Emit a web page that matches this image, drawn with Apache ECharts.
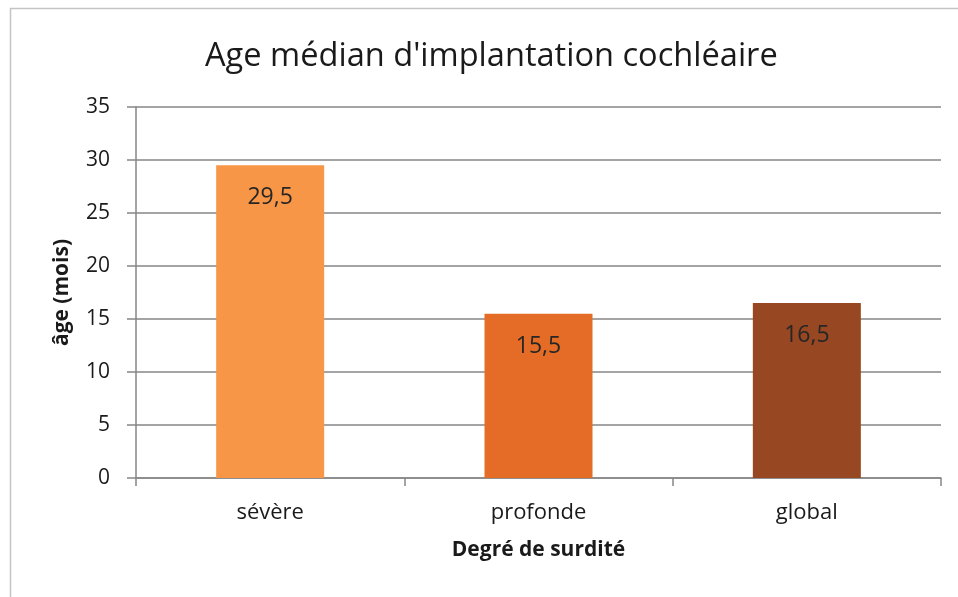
<!DOCTYPE html>
<html><head><meta charset="utf-8">
<script src="https://cdn.jsdelivr.net/npm/echarts@6/dist/echarts.min.js"></script>
<style>html,body{margin:0;padding:0;background:#fff}#c{width:958px;height:597px}</style>
</head><body><div id="c"></div>
<script>
var categories = ['sévère', 'profonde', 'global'];
var values = [29.5, 15.5, 16.5];
var barColors = ['#F79646', '#E46C26', '#974822'];
var yTicks = [0, 5, 10, 15, 20, 25, 30, 35];
var titleText = "Age médian d'implantation cochléaire";
var yName = 'âge (mois)';
var xName = 'Degré de surdité';
var FONT = 'Open Sans';

var chart = echarts.init(document.getElementById('c'), null, {renderer: 'canvas'});
chart.setOption({
  animation: false,
  textStyle: {fontFamily: FONT},
  title: {text: titleText, left: 200, top: 35,
    textStyle: {fontFamily: FONT, fontSize: 32.6, fontWeight: 'normal', color: '#1a1a1a'}},
  grid: {left: 136, right: 17, top: 107, bottom: 119, containLabel: false},
  graphic: [{type: 'rect', shape: {x: 10.5, y: 8.5, width: 1000, height: 1000},
    style: {fill: 'none', stroke: '#c4c4c4', lineWidth: 1.5}, silent: true, z: -1}],
  xAxis: {type: 'category', data: categories,
    name: xName, nameLocation: 'middle', nameGap: 62,
    nameTextStyle: {fontFamily: FONT, fontSize: 21, fontWeight: 'bold', color: '#1a1a1a'},
    axisLine: {lineStyle: {color: '#868686', width: 1.5}},
    axisTick: {show: true, length: 8, lineStyle: {color: '#868686', width: 1.5}},
    axisLabel: {fontSize: 22, color: '#1a1a1a', margin: 24}},
  yAxis: {type: 'value', min: 0, max: 35, interval: 5,
    name: yName, nameLocation: 'middle', nameGap: 63, nameRotate: 90,
    nameTextStyle: {fontFamily: FONT, fontSize: 21, fontWeight: 'bold', color: '#1a1a1a'},
    axisLine: {show: true, lineStyle: {color: '#868686', width: 1.5}},
    axisTick: {show: true, length: 9, lineStyle: {color: '#868686', width: 1.5}},
    axisLabel: {fontSize: 21, color: '#1a1a1a', margin: 26,
      formatter: function (v) { return yTicks.indexOf(v) >= 0 ? String(v) : ''; }},
    splitLine: {lineStyle: {color: '#868686', width: 1.5}}},
  series: [{type: 'bar', barWidth: 108,
    data: values.map(function (v, i) { return {value: v, itemStyle: {color: barColors[i]}}; }),
    label: {show: true, position: 'insideTop', distance: 21, fontSize: 23, color: '#262626',
      formatter: function (p) { return String(p.value).replace('.', ','); }}}]
});
</script></body></html>
